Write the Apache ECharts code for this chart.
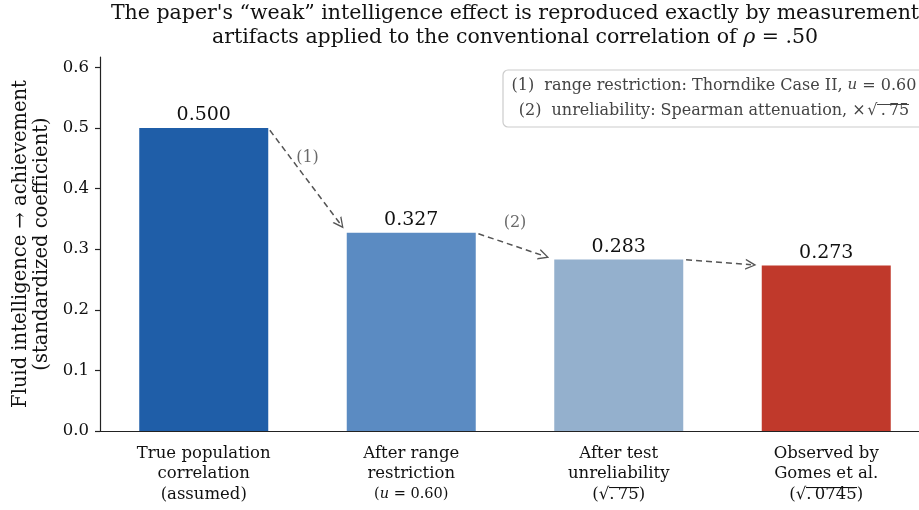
<!DOCTYPE html>
<html>
<head>
<meta charset="utf-8">
<script src="https://cdn.jsdelivr.net/npm/echarts@6/dist/echarts.min.js"></script>
<style>
  html, body { margin: 0; padding: 0; background: #fff; }
  #chart { width: 919px; height: 510px; }
</style>
</head>
<body>
<div id="chart"></div>
<script>
// Successive correlations: true value, after range restriction, after unreliability, observed
const categories = ['true', 'restricted', 'unreliable', 'observed'];
const values = [0.500, 0.327, 0.283, 0.273];
const barColors = ['#1f5ea8', '#5b8bc2', '#94b0cd', '#c0392b'];

// Multi-line category labels (rich-text markup; {ov|...} carries the radical's bar)
const categoryLabels = [
  ['True population', 'correlation', '(assumed)'],
  ['After range', 'restriction', '{m|(}{mi|u}{m| = 0.60)}'],
  ['After test', 'unreliability', '(√{ov|.\u200975})'],
  ['Observed by', 'Gomes et al.', '(√{ov|.\u20090745})']
];

const yTicks = [0, 0.1, 0.2, 0.3, 0.4, 0.5, 0.6];
const stepLabels = ['(1)', '(2)', ''];

const SERIF = "'DejaVu Serif', serif";
const halfBar = 0.31;   // half of the bar width, in category units

// A thin bar image stretched over a rich-text token: the vinculum of a square root
function vinculum(color) {
  const c = document.createElement('canvas');
  c.width = 8; c.height = 40;
  const g = c.getContext('2d');
  g.fillStyle = color;
  g.fillRect(0, 3, 8, 3);
  return c;
}
const barImgDark = vinculum('#111');
const barImgGray = vinculum('#444');

// Step arrows run from the top-right corner of one bar to the top-left corner of the next
const arrowEnds = [];
const arrowLabelData = [];
for (let i = 0; i < values.length - 1; i++) {
  const a = [i + halfBar, values[i]];
  const b = [i + 1 - halfBar, values[i + 1]];
  arrowEnds.push([a, b]);
  if (stepLabels[i]) {
    arrowLabelData.push({ name: stepLabels[i], value: [(a[0] + b[0]) / 2, (a[1] + b[1]) / 2] });
  }
}

const chart = echarts.init(document.getElementById('chart'), null, { renderer: 'canvas' });

const option = {
  animation: false,
  backgroundColor: '#ffffff',
  textStyle: { fontFamily: SERIF },
  grid: { left: 100, top: 57, width: 830, height: 374, containLabel: false, outerBoundsMode: 'none' },
  xAxis: [
    {
      type: 'category',
      data: categories,
      axisLine: { lineStyle: { color: '#222', width: 1.2 } },
      axisTick: { alignWithLabel: true, length: 5, lineStyle: { color: '#222', width: 1.2 } },
      axisLabel: {
        interval: 0,
        margin: 12,
        fontFamily: SERIF,
        fontSize: 16.5,
        lineHeight: 20.5,
        color: '#111',
        formatter: function (v, idx) { return categoryLabels[idx].join('\n'); },
        rich: {
          m: { fontFamily: SERIF, fontSize: 14.5, color: '#111' },
          mi: { fontFamily: SERIF, fontSize: 14.5, fontStyle: 'italic', color: '#111' },
          ov: { fontFamily: SERIF, fontSize: 16.5, lineHeight: 20.5, color: '#111',
                backgroundColor: { image: barImgDark } }
        }
      },
      splitLine: { show: false }
    },
    { type: 'value', min: -0.5, max: 3.5, show: false }
  ],
  yAxis: {
    type: 'value',
    min: 0,
    max: 0.617,
    axisLine: { show: true, onZero: false, lineStyle: { color: '#222', width: 1.2 } },
    axisTick: { show: true, length: 5, customValues: yTicks, lineStyle: { color: '#222', width: 1.2 } },
    axisLabel: {
      customValues: yTicks,
      margin: 11,
      fontFamily: SERIF,
      fontSize: 16.5,
      color: '#111',
      formatter: function (v) { return v.toFixed(1); }
    },
    splitLine: { show: false }
  },
  series: [
    {
      type: 'bar',
      xAxisIndex: 0,
      barWidth: 129,
      data: values.map((v, i) => ({ value: v, itemStyle: { color: barColors[i] } })),
      label: {
        show: true,
        position: 'top',
        distance: 3,
        fontFamily: SERIF,
        fontSize: 19,
        color: '#111',
        formatter: p => p.value.toFixed(3)
      }
    },
    {
      type: 'lines',
      coordinateSystem: 'cartesian2d',
      xAxisIndex: 1,
      yAxisIndex: 0,
      silent: true,
      z: 5,
      symbol: ['none', 'path://M0,10 L5,0 L10,10 L8.6,10 L5,2.6 L1.4,10 Z'],
      symbolSize: [11, 11],
      lineStyle: { color: '#555', width: 1.5, type: [6, 4], opacity: 1, curveness: 0 },
      data: arrowEnds.map(e => ({ coords: e }))
    },
    {
      type: 'scatter',
      xAxisIndex: 1,
      yAxisIndex: 0,
      silent: true,
      symbolSize: 0,
      z: 6,
      label: {
        show: true,
        position: 'inside',
        offset: [0, -23],
        fontFamily: SERIF,
        fontSize: 16,
        color: '#444',
        formatter: p => p.name
      },
      data: arrowLabelData
    }
  ],
  graphic: [
    {
      type: 'text',
      x: 515,
      y: 2,
      style: {
        text: "The paper's \u201cweak\u201d intelligence effect is reproduced exactly by measurement\n" +
              "artifacts applied to the conventional correlation of {i|\u03c1} = .50",
        fontFamily: SERIF,
        fontSize: 20.5,
        lineHeight: 23.5,
        fill: '#111',
        textAlign: 'center',
        textVerticalAlign: 'top',
        rich: { i: { fontFamily: SERIF, fontSize: 20.5, fontStyle: 'italic', fill: '#111' } }
      }
    },
    {
      // y-axis title, centred on the plot height
      type: 'text',
      x: 31,
      y: 244,
      rotation: Math.PI / 2,
      style: {
        text: 'Fluid intelligence \u2192 achievement\n(standardized coefficient)',
        fontFamily: SERIF,
        fontSize: 19.5,
        lineHeight: 21,
        fill: '#111',
        textAlign: 'center',
        textVerticalAlign: 'middle'
      }
    },
    {
      type: 'rect',
      shape: { x: 503, y: 70, width: 430, height: 57, r: 5 },
      style: { fill: 'rgba(255,255,255,0.85)', stroke: '#cccccc', lineWidth: 1.2 },
      z: 10
    },
    {
      type: 'text',
      x: 714,
      y: 98,
      z: 11,
      style: {
        text: '(1)  range restriction: Thorndike Case II, {i|u} = 0.60\n' +
              '(2)  unreliability: Spearman attenuation, \u00d7\u200a\u221a{ov|\u2009.\u200975}',
        fontFamily: SERIF,
        fontSize: 16,
        lineHeight: 25,
        fill: '#444',
        textAlign: 'center',
        textVerticalAlign: 'middle',
        rich: {
          i: { fontFamily: SERIF, fontSize: 15, fontStyle: 'italic', fill: '#444' },
          ov: { fontFamily: SERIF, fontSize: 16, lineHeight: 22, fill: '#444',
                backgroundColor: { image: barImgGray } }
        }
      }
    }
  ]
};

chart.setOption(option);

// Pull each arrow back from the bar corners it joins; the head is centred on the
// line's end, so the end is pulled back by half the head as well
(function shrinkArrows() {
  const finder = { xAxisIndex: 1, yAxisIndex: 0 };
  const data = arrowEnds.map(function (pair) {
    const pa = chart.convertToPixel(finder, pair[0]);
    const pb = chart.convertToPixel(finder, pair[1]);
    const dx = pb[0] - pa[0], dy = pb[1] - pa[1];
    const len = Math.hypot(dx, dy);
    const ux = dx / len, uy = dy / len;
    const s = [pa[0] + ux * 3, pa[1] + uy * 3];
    const e = [pb[0] - ux * 11, pb[1] - uy * 11];
    return { coords: [chart.convertFromPixel(finder, s), chart.convertFromPixel(finder, e)] };
  });
  chart.setOption({ series: [{}, { data: data }] });
})();
</script>
</body>
</html>
